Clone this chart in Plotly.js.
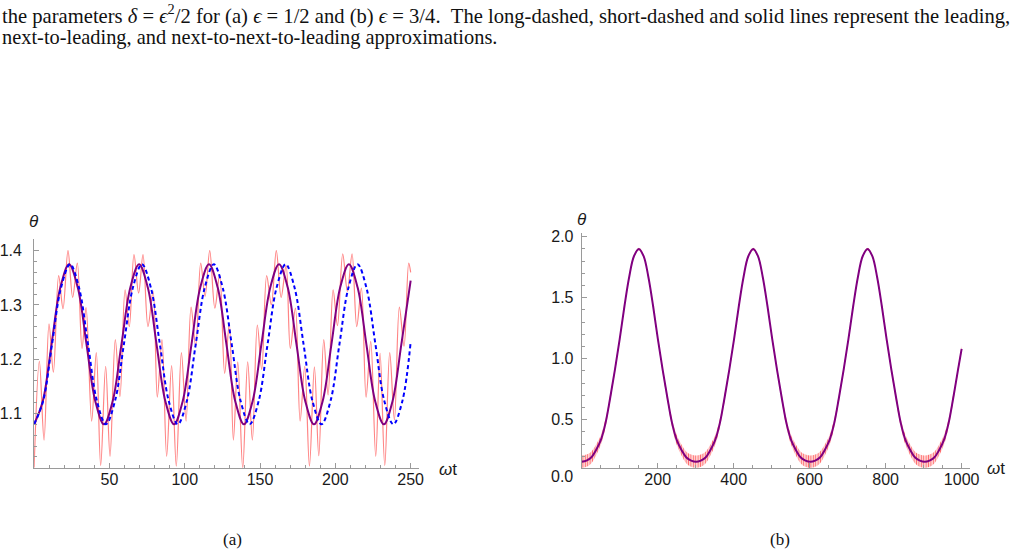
<!DOCTYPE html>
<html>
<head>
<meta charset="utf-8">
<script src="https://cdn.plot.ly/plotly-3.0.1.min.js"></script>
<style>html,body{margin:0;padding:0;background:#fff;}#chart{width:1028px;height:554px;}</style>
</head>
<body>
<div id="chart"></div>
<script>
// ---------- Panel (a): epsilon = 1/2 ----------
// exact solution (thin red), read at its fast-oscillation extrema
const redAx = [0,3.5,6.6,9.9,12.8,16.3,19.2,22.5,25.6,28.7,31.8,34.5,38.2,41.3,44.2,47.5,50.4,53.9,57.0,60.4,63.2,
  66.3,69.4,72.3,75.6,79.0,81.8,84.9,88.0,91.3,94.4,97.8,100.9,104.2,107.3,110.6,113.5,116.6,120.0,123.2,126.5,
  129.6,132.3,135.2,138.5,141.8,144.9,148.2,151.1,154.4,157.5,160.8,164.0,167.3,170.1,173.5,176.6,179.7,182.8,186.1,
  189.0,192.3,195.2,198.5,201.4,204.9,208.0,211.1,214.2,217.3,220.4,223.5,226.8,229.7,232.8,236.1,239.2,242.5,245.6,248.7,250.0];
const redAy = [1.000,1.196,1.051,1.265,1.176,1.354,1.293,1.400,1.314,1.377,1.220,1.295,1.086,1.212,1.004,1.187,1.021,1.236,1.131,1.328,1.260,
  1.393,1.322,1.393,1.260,1.325,1.130,1.236,1.021,1.188,1.003,1.212,1.086,1.296,1.224,1.377,1.316,1.400,1.294,1.356,1.174,
  1.265,1.051,1.195,0.999,1.195,1.051,1.263,1.181,1.354,1.300,1.400,1.314,1.373,1.220,1.294,1.086,1.187,1.003,1.186,
  1.022,1.236,1.134,1.328,1.262,1.394,1.325,1.394,1.260,1.331,1.130,1.233,1.021,1.211,1.004,1.212,1.088,1.296,1.224,1.377,1.360];

// next-to-leading approximation (blue short-dashed)
const blueAx = [0,6.0,11.9,17.9,23.9,29.8,35.8,41.7,47.7,53.7,59.6,65.6,71.6,77.5,83.5,89.4,95.4,101.4,107.3,113.3,
  119.3,125.2,131.2,137.1,143.1,149.1,155.0,161.0,167.0,172.9,178.9,184.8,190.8,196.8,202.7,208.7,214.7,220.6,226.6,
  232.5,238.5,244.5,250];
const blueAy = [1.080,1.123,1.2275,1.332,1.375,1.332,1.2275,1.123,1.080,1.123,1.2275,1.332,1.375,1.332,1.2275,1.123,
  1.080,1.123,1.2275,1.332,1.375,1.332,1.2275,1.123,1.080,1.123,1.2275,1.332,1.375,1.332,1.2275,1.123,
  1.080,1.123,1.2275,1.332,1.375,1.332,1.2275,1.123,1.080,1.123,1.232];

// next-to-next-to-leading approximation (purple solid)
const purpAx = [0,5.8,11.6,17.4,23.2,29.0,34.8,40.6,46.4,52.2,58.0,63.9,69.7,75.5,81.3,87.1,92.9,98.7,104.5,110.3,
  116.1,121.9,127.7,133.5,139.3,145.1,150.9,156.8,162.6,168.4,174.2,180.0,185.8,191.6,197.4,203.2,209.0,214.8,220.6,
  226.4,232.2,238.0,243.8,250];
const purpAy = [1.080,1.123,1.2275,1.332,1.375,1.332,1.2275,1.123,1.080,1.123,1.2275,1.332,1.375,1.332,1.2275,1.123,
  1.080,1.123,1.2275,1.332,1.375,1.332,1.2275,1.123,1.080,1.123,1.2275,1.332,1.375,1.332,1.2275,1.123,
  1.080,1.123,1.2275,1.332,1.375,1.332,1.2275,1.123,1.080,1.123,1.2275,1.345];

const aXTicks = [50,100,150,200,250];
const aXTickText = ['50','100','150','200','250'];
const aYTicks = [1.1,1.2,1.3,1.4];
const aYTickText = ['1.1','1.2','1.3','1.4'];

// ---------- Panel (b): epsilon = 3/4 ----------
const bX = [0,12.5,25,37.5,50,62.5,75,87.5,100,112.5,125,137.5,150.5,
  163,175.5,188,200.5,213,225.5,238,250.5,263,275.5,288,301,
  313.5,326,338.5,351,363.5,376,388.5,401,413.5,426,438.5,451.5,
  464,476.5,489,501.5,514,526.5,539,551.5,564,576.5,589,602,
  614.5,627,639.5,652,664.5,677,689.5,702,714.5,727,739.5,752.5,
  765,777.5,790,802.5,815,827.5,840,852.5,865,877.5,890,903,
  915.5,928,940.5,953,965.5,978,990.5,1000];
const bPurple = [0.155,0.165,0.19,0.25,0.33,0.47,0.68,0.91,1.16,1.43,1.67,1.84,1.90,
  1.84,1.67,1.43,1.16,0.91,0.68,0.47,0.33,0.25,0.19,0.165,0.155,
  0.165,0.19,0.25,0.33,0.47,0.68,0.91,1.16,1.43,1.67,1.84,1.90,
  1.84,1.67,1.43,1.16,0.91,0.68,0.47,0.33,0.25,0.19,0.165,0.155,
  0.165,0.19,0.25,0.33,0.47,0.68,0.91,1.16,1.43,1.67,1.84,1.90,
  1.84,1.67,1.43,1.16,0.91,0.68,0.47,0.33,0.25,0.19,0.165,0.155,
  0.165,0.19,0.25,0.33,0.47,0.68,0.91,1.08];
// half-height of the red fast-oscillation band around the slow curve
const bRedAmp = [0.052,0.05,0.048,0.045,0.04,0.035,0.03,0.025,0.02,0.018,0.015,0.012,0.01,
  0.012,0.015,0.018,0.02,0.025,0.03,0.035,0.04,0.045,0.048,0.05,0.052,
  0.05,0.048,0.045,0.04,0.035,0.03,0.025,0.02,0.018,0.015,0.012,0.01,
  0.012,0.015,0.018,0.02,0.025,0.03,0.035,0.04,0.045,0.048,0.05,0.052,
  0.05,0.048,0.045,0.04,0.035,0.03,0.025,0.02,0.018,0.015,0.012,0.01,
  0.012,0.015,0.018,0.02,0.025,0.03,0.035,0.04,0.045,0.048,0.05,0.052,
  0.05,0.048,0.045,0.04,0.035,0.03,0.025,0.024];

const bXTicks = [200,400,600,800,1000];
const bXTickText = ['200','400','600','800','1000'];
const bYTicks = [0.5,1.0,1.5,2.0];
const bYTickText = ['0.5','1.0','1.5','2.0'];

// ---------- build ----------
const W = 1028, H = 554;
const px = v => v / W;
const py = v => 1 - v / H;
const AXC = '#9a9a9a';
const TF = {family: 'Liberation Sans, Arial, sans-serif', size: 16, color: '#1a1a1a'};
const SERIF = 'Liberation Serif, Times New Roman, serif';

const bUpper = bPurple.map((v, i) => v + bRedAmp[i]);
const bLower = bPurple.map((v, i) => v - bRedAmp[i]);

const traces = [
  {x: redAx, y: redAy, xaxis: 'x', yaxis: 'y', mode: 'lines', line: {color: 'rgba(255,80,80,0.7)', width: 1.2, shape: 'spline'}, hoverinfo: 'skip'},
  {x: purpAx, y: purpAy, xaxis: 'x', yaxis: 'y', mode: 'lines', line: {color: '#800080', width: 2, shape: 'spline'}, hoverinfo: 'skip'},
  {x: blueAx, y: blueAy, xaxis: 'x', yaxis: 'y', mode: 'lines', line: {color: '#0000ff', width: 2, dash: '4px,3px', shape: 'spline'}, hoverinfo: 'skip'},
  {x: bX, y: bLower, xaxis: 'x2', yaxis: 'y2', mode: 'lines', line: {width: 0, shape: 'spline'}, hoverinfo: 'skip'},
  {x: bX, y: bUpper, xaxis: 'x2', yaxis: 'y2', mode: 'lines', fill: 'tonexty', fillcolor: 'rgba(255,110,110,0.3)',
   fillpattern: {shape: '|', size: 2.4, solidity: 0.45, fgcolor: 'rgba(255,70,70,0.75)', bgcolor: 'rgba(255,170,170,0.35)'},
   line: {width: 0, shape: 'spline'}, hoverinfo: 'skip'},
  {x: bX, y: bPurple, xaxis: 'x2', yaxis: 'y2', mode: 'lines', line: {color: '#800080', width: 2, shape: 'spline'}, hoverinfo: 'skip'}
];

function axis(domain, range, tickvals, ticktext, minorDtick, minorTick0, standoff) {
  return {
    domain: domain, range: range, showline: true, linecolor: AXC, linewidth: 1,
    showgrid: false, zeroline: false, ticks: 'inside', ticklen: 5, tickwidth: 1, tickcolor: AXC,
    tickmode: 'array', tickvals: tickvals, ticktext: ticktext, tickfont: TF,
    ticklabelstandoff: standoff,
    minor: {tickmode: 'linear', tick0: minorTick0, dtick: minorDtick, ticks: 'inside', ticklen: 3, tickwidth: 1, tickcolor: AXC, showgrid: false},
    fixedrange: true
  };
}

const layout = {
  width: W, height: H, margin: {l: 0, r: 0, t: 0, b: 0},
  paper_bgcolor: '#fff', plot_bgcolor: 'rgba(0,0,0,0)', showlegend: false,
  xaxis: Object.assign(axis([px(34.1), px(419.1)], [0, 255.6], aXTicks, aXTickText, 10, 0, -3), {anchor: 'y'}),
  yaxis: Object.assign(axis([py(467.7), py(239.3)], [1.0, 1.421], aYTicks, aYTickText, 0.02, 1.0, 8), {anchor: 'x'}),
  xaxis2: Object.assign(axis([px(581.7), px(970)], [0, 1022], bXTicks, bXTickText, 50, 0, -3), {anchor: 'y2'}),
  yaxis2: Object.assign(axis([py(467.7), py(233.3)], [0.1066, 2.028], bYTicks, bYTickText, 0.1, 0, 4), {anchor: 'x2'}),
  annotations: [
    {xref: 'paper', yref: 'paper', x: 0, y: py(14), xanchor: 'left', yanchor: 'middle', showarrow: false,
     text: 'the parameters <i>δ</i> = <i>ϵ</i><sup>2</sup>/2 for (a) <i>ϵ</i> = 1/2 and (b) <i>ϵ</i> = 3/4.  The long-dashed, short-dashed and solid lines represent the leading,',
     font: {family: SERIF, size: 20.6, color: '#111'}},
    {xref: 'paper', yref: 'paper', x: 0, y: py(37), xanchor: 'left', yanchor: 'middle', showarrow: false,
     text: 'next-to-leading, and next-to-next-to-leading approximations.',
     font: {family: SERIF, size: 20.4, color: '#111'}},
    {xref: 'paper', yref: 'paper', x: px(34), y: py(221), xanchor: 'center', yanchor: 'middle', showarrow: false,
     text: '<i>θ</i>', font: {family: 'Liberation Sans, Arial, sans-serif', size: 17, color: '#1a1a1a'}},
    {xref: 'paper', yref: 'paper', x: px(582), y: py(219), xanchor: 'center', yanchor: 'middle', showarrow: false,
     text: '<i>θ</i>', font: {family: 'Liberation Sans, Arial, sans-serif', size: 17, color: '#1a1a1a'}},
    {xref: 'paper', yref: 'paper', x: px(448), y: py(469), xanchor: 'center', yanchor: 'middle', showarrow: false,
     text: '<i>ω</i>t', font: {family: 'Liberation Sans, Arial, sans-serif', size: 17, color: '#1a1a1a'}},
    {xref: 'paper', yref: 'paper', x: px(996), y: py(468), xanchor: 'center', yanchor: 'middle', showarrow: false,
     text: '<i>ω</i>t', font: {family: 'Liberation Sans, Arial, sans-serif', size: 17, color: '#1a1a1a'}},
    {xref: 'paper', yref: 'paper', x: px(575), y: py(476.5), xanchor: 'right', yanchor: 'middle', showarrow: false,
     text: '0.0', font: TF},
    {xref: 'paper', yref: 'paper', x: px(232.6), y: py(539), xanchor: 'center', yanchor: 'middle', showarrow: false,
     text: '(a)', font: {family: SERIF, size: 17, color: '#111'}},
    {xref: 'paper', yref: 'paper', x: px(779.7), y: py(539), xanchor: 'center', yanchor: 'middle', showarrow: false,
     text: '(b)', font: {family: SERIF, size: 17, color: '#111'}}
  ]
};

Plotly.newPlot('chart', traces, layout, {staticPlot: true, displayModeBar: false});
</script>
</body>
</html>
